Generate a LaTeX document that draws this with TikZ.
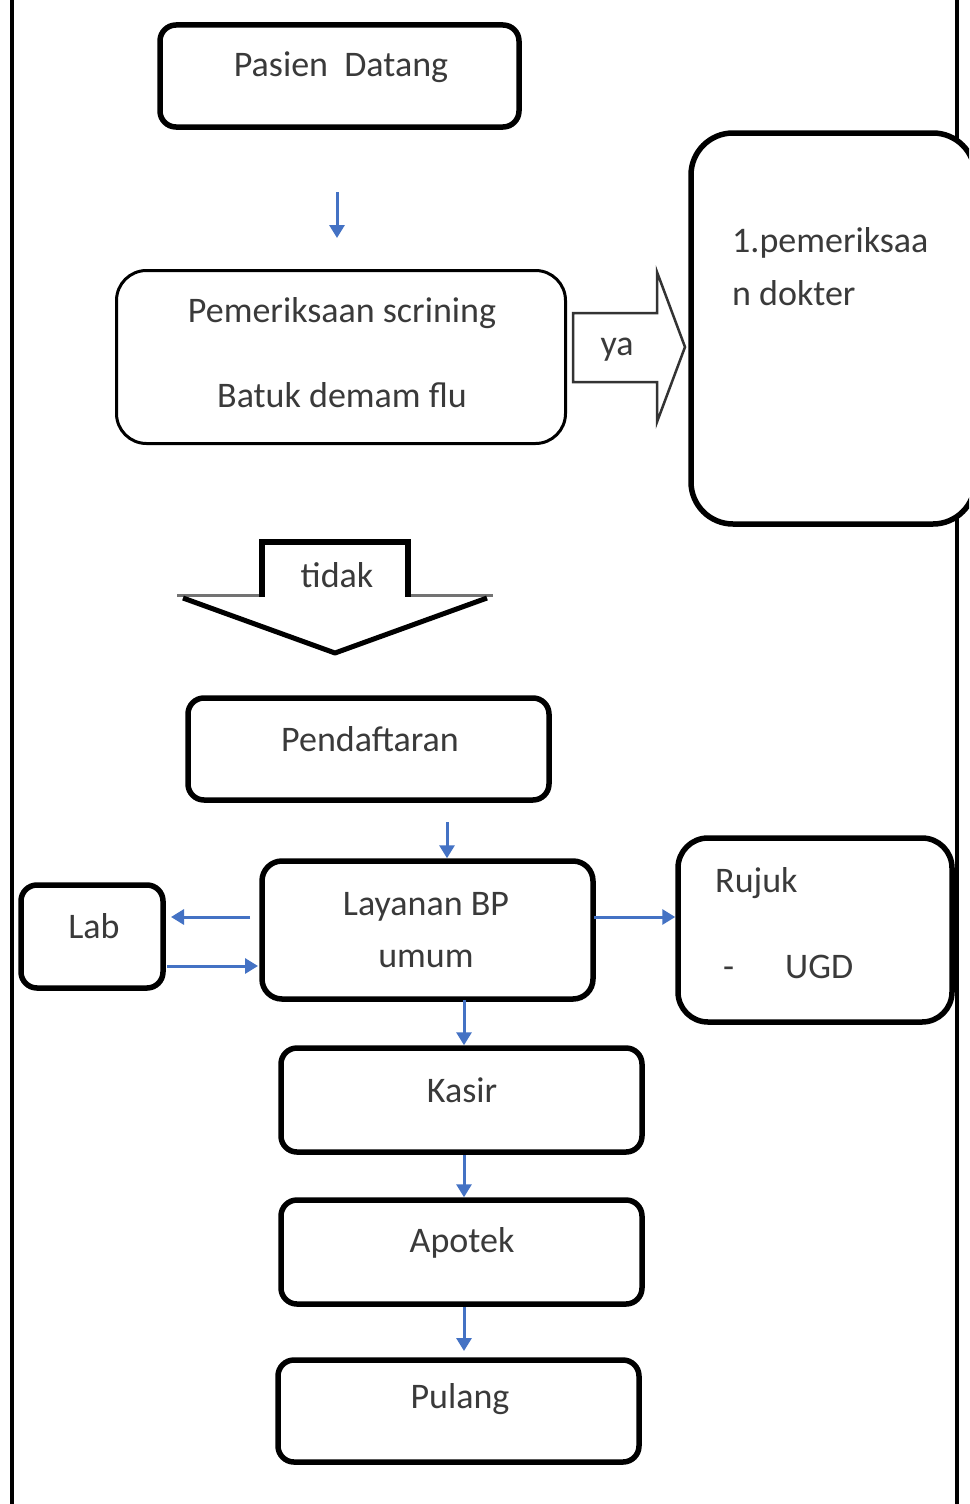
\documentclass[tikz,border=0pt]{standalone}
\usepackage{fontspec}
\setmainfont{Carlito}
\usetikzlibrary{arrows.meta}
\definecolor{flowblue}{HTML}{4472C4}
\definecolor{txtgray}{HTML}{3A3A3A}
\tikzset{
  pbox/.style={draw=black, line width=5.5pt, rounded corners=16pt, fill=white, inner sep=0pt},
  lbl/.style={inner sep=0pt, anchor=base, text=txtgray, font=\fontsize{36}{43}\selectfont},
  lblw/.style={lbl, anchor=base west},
  flow/.style={draw=flowblue, line width=3pt, -{Triangle[width=15pt,length=13pt]}},
}
\begin{document}
\begin{tikzpicture}[x=1pt,y=-1pt]
\useasboundingbox (0,0) rectangle (969,1504);
\clip (0,0) rectangle (969,1504);
\fill[white] (0,0) rectangle (969,1504);
% frame lines
\draw[line width=4pt] (12,-5) -- (12,1510);
\draw[line width=4pt] (957,-5) -- (957,1510);

% boxes
\node[pbox, minimum width=359pt, minimum height=102pt] (pasien) at (339.5,76) {};
\node[pbox, line width=3pt, rounded corners=30pt, minimum width=449pt, minimum height=173pt] (skrining) at (341,357) {};
\node[pbox, rounded corners=42pt, minimum width=284pt, minimum height=391pt] (dokter) at (833,328.5) {};
\node[pbox, minimum width=361pt, minimum height=102pt] (daftar) at (368.5,749) {};
\node[pbox, rounded corners=20pt, minimum width=331pt, minimum height=138pt] (layanan) at (427.5,930) {};
\node[pbox, minimum width=142pt, minimum height=103pt] (lab) at (92,936.5) {};
\node[pbox, rounded corners=30pt, minimum width=274pt, minimum height=184pt] (rujuk) at (815,930) {};
\node[pbox, minimum width=361pt, minimum height=104pt] (kasir) at (461.5,1100) {};
\node[pbox, minimum width=361pt, minimum height=104pt] (apotek) at (461.5,1252) {};
\node[pbox, minimum width=361pt, minimum height=102pt] (pulang) at (458.5,1411) {};

% block arrow "ya"
\draw[fill=white, draw=black!80, line width=2.5pt, line join=miter]
  (573,313) -- (657,313) -- (657,272) -- (685,347) -- (657,422) -- (657,382) -- (573,382) -- cycle;
% block arrow "tidak"
\fill[white] (262,539) -- (408,539) -- (408,595) -- (493,595) -- (335,655) -- (177,595) -- (262,595) -- cycle;
\draw[draw=black!55, line width=3pt] (408,595) -- (493,595);
\draw[draw=black!55, line width=3pt] (177,595) -- (262,595);
\draw[line width=5.5pt, line join=miter] (262,597) -- (262,542) -- (408,542) -- (408,597);
\draw[line width=5pt, line join=round] (487,598) -- (335,653) -- (183,598);

% connectors
\coordinate (c1) at (337,192);
\coordinate (c1e) at (337,238);
\draw[flow] (c1) -- (c1e);
\coordinate (c2) at (447,822);
\draw[flow] (c2) -- (c2 |- layanan.north);
\coordinate (c3) at (250,917);
\coordinate (c3e) at (171,917);
\draw[flow] (c3) -- (c3e);
\coordinate (c4) at (167,966);
\coordinate (c4e) at (258,966);
\draw[flow] (c4) -- (c4e);
\coordinate (c5) at (594,917);
\draw[flow] (c5) -- (c5 -| rujuk.west);
\coordinate (c6) at (464,1000);
\draw[flow] (c6) -- (c6 |- kasir.north);
\coordinate (c7) at (464,1155);
\draw[flow] (c7) -- (c7 |- apotek.north);
\coordinate (c8) at (464,1307);
\coordinate (c8e) at (464,1351);
\draw[flow] (c8) -- (c8e);

% labels
\node[lbl] (tpasien) at (341,77) {Pasien\ \ Datang};
\node[lbl] (tskr1) at (342,322) {Pemeriksaan scrining};
\node[lbl] (tskr2) at (342,407) {Batuk demam flu};
\node[lbl] (tya) at (617,355) {ya};
\node[lblw] (tdok1) at (732,252) {1.pemeriksaa};
\node[lblw] (tdok2) at (732,305) {n dokter};
\node[lbl] (ttidak) at (337,587) {tidak};
\node[lbl] (tdaftar) at (370,751) {Pendaftaran};
\node[lbl] (tlay1) at (426,915) {Layanan BP};
\node[lbl] (tlay2) at (426,967) {umum};
\node[lbl] (tlab) at (94,938) {Lab};
\node[lblw] (truj1) at (715,892) {Rujuk};
\node[lblw] (truj2) at (723,978) {-};
\node[lblw] (truj3) at (785,978) {UGD};
\node[lbl] (tkasir) at (462,1102) {Kasir};
\node[lbl] (tapotek) at (462,1252) {Apotek};
\node[lbl] (tpulang) at (460,1408) {Pulang};
\end{tikzpicture}
\end{document}
